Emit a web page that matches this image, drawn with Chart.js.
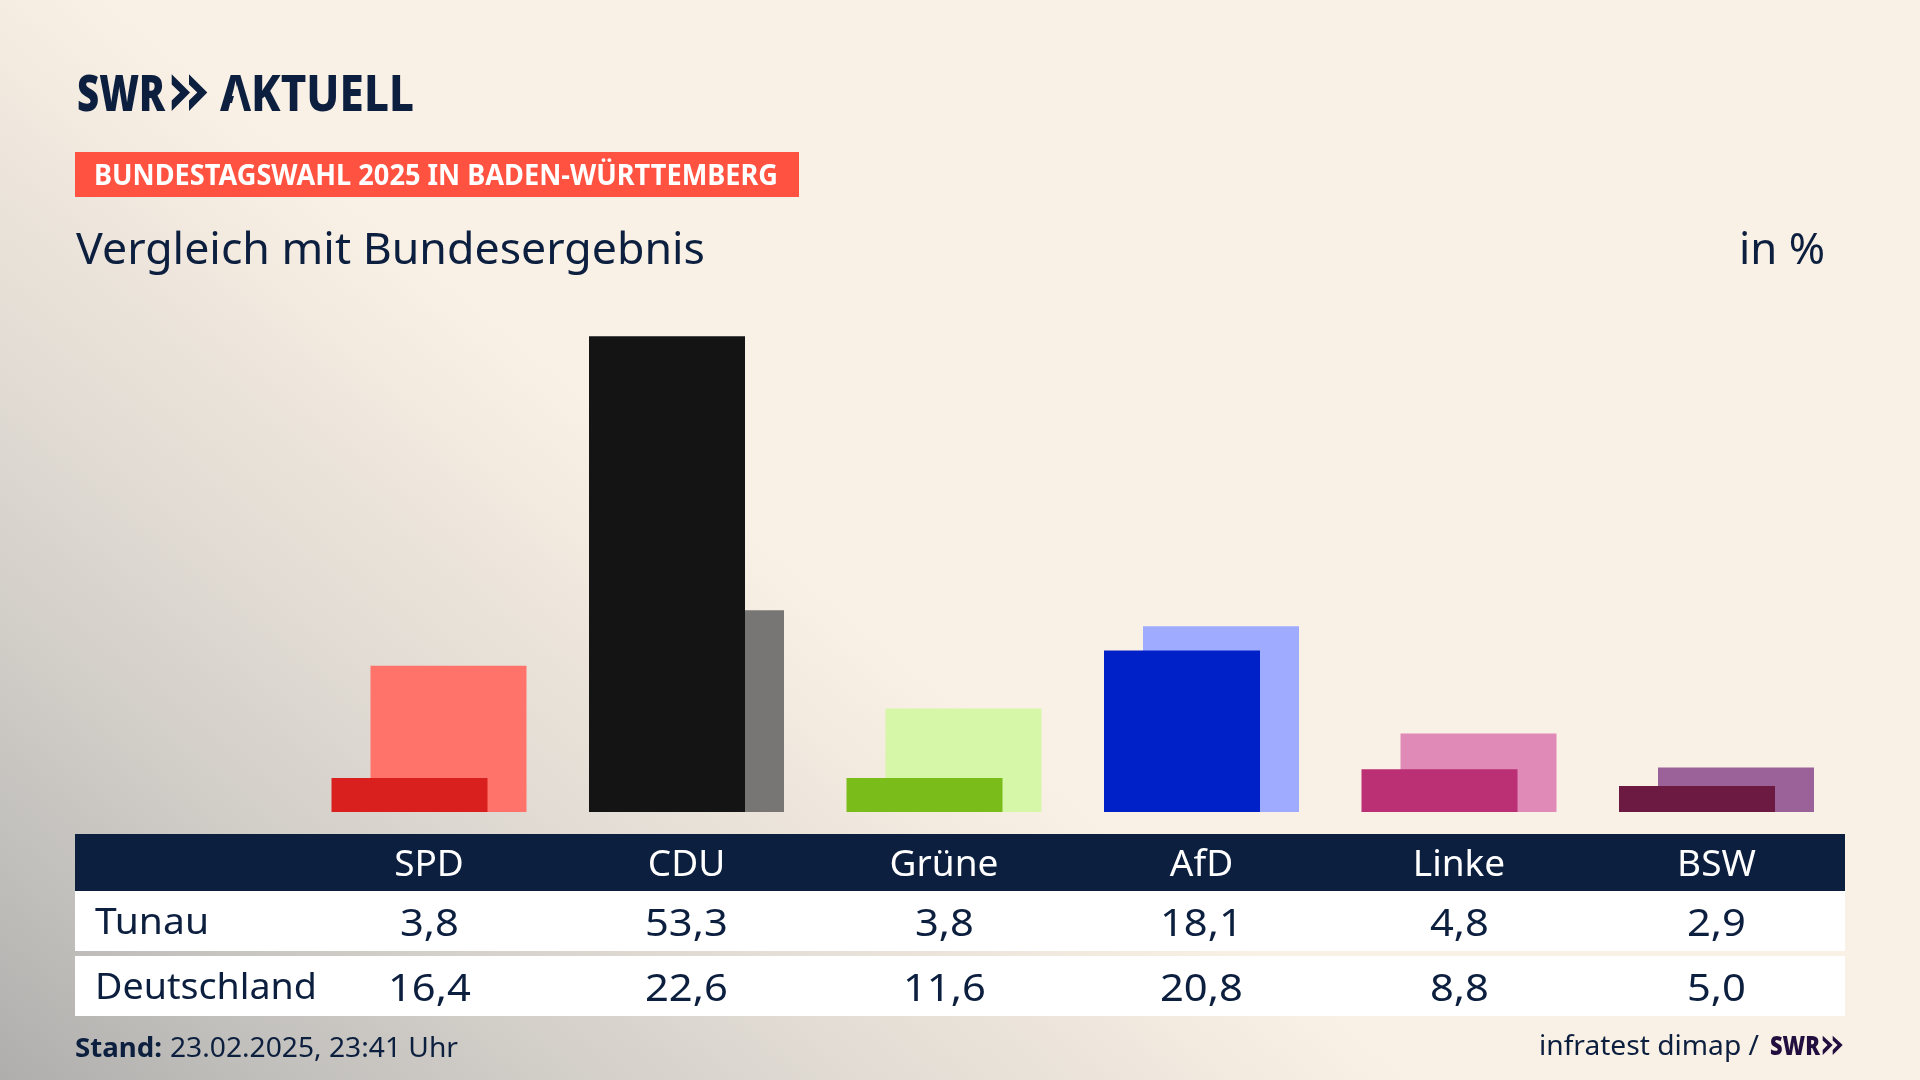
<!DOCTYPE html>
<html lang="de"><head><meta charset="utf-8"><title>Vergleich mit Bundesergebnis</title>
<script src="https://cdn.jsdelivr.net/npm/chart.js@4"></script>
<style>
html,body{margin:0;padding:0;width:1920px;height:1080px;overflow:hidden}
body{position:relative;font-family:"Noto Sans",sans-serif;color:#0c1f3f;
background:linear-gradient(39.6deg,#afaeac 0%,#c0bebb 8%,#d3cfc9 18%,#e3ddd5 28%,#f2e9df 38%,#faf1e6 44%,#faf1e6 100%)}
.t{position:absolute;white-space:nowrap;line-height:1;transform-origin:0 0}
.box{position:absolute}
canvas{position:absolute;left:0;top:0;z-index:5}
</style></head><body>
<div class="box" style="left:75px;top:152px;width:724px;height:45px;background:#ff5240"></div>
<div class="box" style="left:75px;top:834px;width:1770px;height:57px;background:#0c1f3f"></div>
<div class="box" style="left:75px;top:891px;width:1770px;height:60px;background:#fff"></div>
<div class="box" style="left:75px;top:956px;width:1770px;height:60px;background:#fff"></div>
<canvas id="c" width="1920" height="1080"></canvas>
<svg class="box" style="left:0;top:0;z-index:8" width="1920" height="1080">
<polygon fill="#f9f0e5" points="237,85 229.5,112 244.5,112"/>
<g fill="#0c1f3f"><polygon points="171.7,74.3 190,92.5 171.7,111 171.7,100.5 180,92.5 171.7,84.5"/><polygon points="189,74.3 207.3,92.5 189,111 189,100.5 197.3,92.5 189,84.5"/></g>
<g fill="#230f3f"><polygon points="1822.7,1035.7 1832.7,1045 1822.7,1055 1822.7,1050 1827.5,1045 1822.7,1040.5"/><polygon points="1832.7,1035.7 1842.7,1045 1832.7,1055 1832.7,1050 1837.5,1045 1832.7,1040.5"/></g>
</svg>
<script>
const categories=["SPD","CDU","Grüne","AfD","Linke","BSW"];
const tunau=[3.8,53.3,3.8,18.1,4.8,2.9];
const deutschland=[16.4,22.6,11.6,20.8,8.8,5.0];
const tunauColors=["#d9201e","#141414","#7abd1a","#0020c8","#bb2f74","#6d1a42"];
const deutschlandColors=["#ff736a","#787674","#d6f6a8","#9fabff","#e08ab8","#9b6299"];
const rowNames=["Tunau","Deutschland"];
const navy="#0c1f3f";

const fmt=v=>v.toLocaleString("de-DE",{minimumFractionDigits:1,maximumFractionDigits:1});
function text(s,o){
  const d=document.createElement("div");d.className="t";d.textContent=s;
  d.style.left=o.x+"px";d.style.fontSize=o.size+"px";
  d.style.fontWeight=o.weight||400;d.style.color=o.color||navy;d.style.zIndex=7;
  document.body.appendChild(d);
  const r=document.createElement("canvas").getContext("2d");
  r.font=(o.weight||400)+" "+o.size+"px 'Noto Sans'";
  const asc=r.measureText("H").fontBoundingBoxAscent,desc=r.measureText("H").fontBoundingBoxDescent;
  d.style.top=(o.base-(o.size-(asc+desc))/2-asc)+"px";
  if(o.w){const a=d.getBoundingClientRect().width;d.style.transform="scaleX("+(o.w/a)+")";}
  if(o.sx){d.style.transform="scaleX("+o.sx+")";}
  if(o.cx!==undefined){const a=d.getBoundingClientRect().width;d.style.left=(o.cx-a/2)+"px";}
  return d;
}
text("SWR",{x:77,base:110.5,size:50,weight:900,w:88});
text("AKTUELL",{x:220,base:110.5,size:50,weight:800,w:194});
text("BUNDESTAGSWAHL 2025 IN BADEN-WÜRTTEMBERG",{x:94,base:185,size:28,weight:700,w:684,color:"#ffffff"});
text("Vergleich mit Bundesergebnis",{x:76,base:264,size:43,w:629});
text("in %",{x:1739,base:264,size:43,w:86});
text("Stand:",{x:75,base:1056.5,size:27,weight:700,w:87});
text("23.02.2025, 23:41 Uhr",{x:170,base:1056.5,size:27,w:288});
text("infratest dimap /",{x:1539,base:1055,size:27,w:220});
text("SWR",{x:1770,base:1054.5,size:26,weight:900,w:50,color:"#230f3f"});

const chart=new Chart(document.getElementById("c"),{
  type:"bar",
  data:{labels:categories,datasets:[
    {label:"Tunau",data:tunau,backgroundColor:tunauColors},
    {label:"Deutschland",data:deutschland,backgroundColor:deutschlandColors}
  ]},
  options:{
    responsive:false,animation:false,devicePixelRatio:1,
    categoryPercentage:0.3029,barPercentage:4,
    layout:{padding:{left:300.25,right:74.75,top:276.5,bottom:0}},
    plugins:{legend:{display:false},tooltip:{enabled:false},title:{display:false}},
    scales:{
      x:{grid:{display:false,drawTicks:false},border:{display:false},
         afterFit(s){s.height=268;},
         ticks:{color:"#ffffff",padding:31,autoSkip:false,maxRotation:0,font:{family:"Noto Sans",size:37}}},
      y:{display:false,min:0,max:60}
    }
  }
});
const xs=chart.scales.x;
[tunau,deutschland].forEach((vals,r)=>{
  text(rowNames[r],{x:95,base:r?999:934.5,size:36,w:r?222:114});
  vals.forEach((v,i)=>text(fmt(v),{x:0,cx:xs.getPixelForValue(i),base:r?1000.5:935.5,size:39,sx:1.07}));
});
</script>
</body></html>
